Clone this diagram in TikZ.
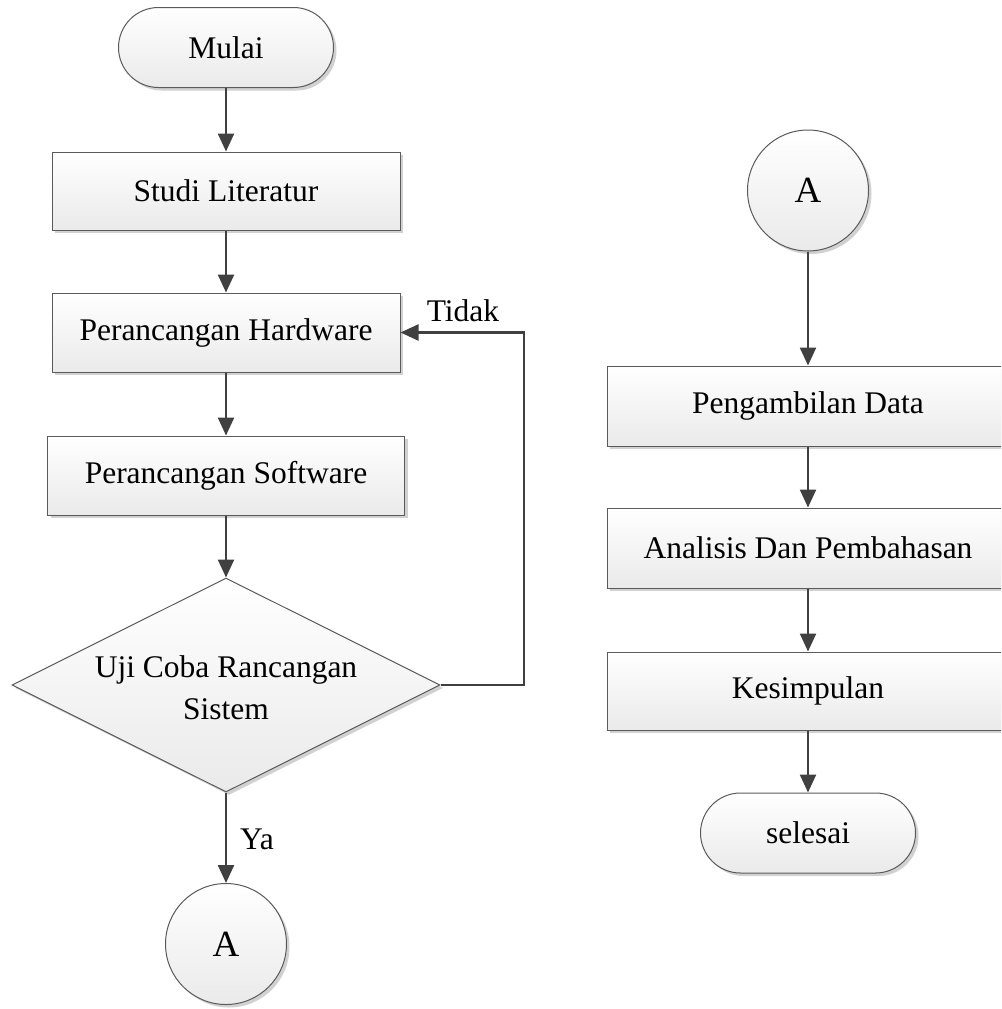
\documentclass[tikz,border=0pt]{standalone}
\usepackage{fontspec}
\setmainfont{Liberation Serif}
\usetikzlibrary{shapes.geometric,arrows.meta,shadows}
\definecolor{edgegray}{HTML}{5A5A5A}
\definecolor{arrowgray}{HTML}{404040}
\definecolor{fillbot}{HTML}{EAEAEA}
\tikzset{
  base/.style={draw=edgegray, line width=1pt, top color=white, bottom color=fillbot,
    inner sep=0pt, font=\fontsize{31.5}{40}\selectfont,
    drop shadow={shadow xshift=3pt, shadow yshift=-3pt, fill=black!18, opacity=1}},
  procbox/.style={base, rectangle},
  termbox/.style={base, rectangle, rounded corners=40pt, minimum width=215pt, minimum height=80pt},
  connbox/.style={base, circle, minimum size=121pt, font=\fontsize{37}{44}\selectfont},
  decbox/.style={base, diamond, minimum width=428pt, minimum height=214pt},
  txt/.style={inner sep=0pt, font=\fontsize{31.5}{42}\selectfont, align=center},
  flow/.style={draw=arrowgray, line width=2.4pt, -{Triangle[length=18pt,width=16pt]}},
}
\begin{document}
\begin{tikzpicture}[x=1pt,y=-1pt]
\clip (0,0) rectangle (1001,1009);
\useasboundingbox (0,0) rectangle (1001,1009);
% left column
\node[termbox] (mulai) at (226,47.5) {Mulai};
\node[procbox, minimum width=348pt, minimum height=78pt] (studi) at (226,191) {Studi Literatur};
\node[procbox, minimum width=348pt, minimum height=79pt] (hw) at (226,332.5) {Perancangan Hardware};
\node[procbox, minimum width=357pt, minimum height=79pt] (sw) at (226,475.5) {Perancangan Software};
\node[decbox] (dec) at (226,685) {};
\node[txt] (dectext) at (226,688) {Uji Coba Rancangan\\Sistem};
\node[connbox] (aout) at (226,944) {A};
\coordinate (loop) at (524,685);
\node[txt] (tidak) at (463,311) {Tidak};
\node[txt] (ya) at (257,839) {Ya};
% right column
\node[connbox] (ain) at (808,190.5) {A};
\node[procbox, minimum width=402pt, minimum height=80pt] (ambil) at (808,406) {Pengambilan Data};
\node[procbox, minimum width=402pt, minimum height=80pt] (analisis) at (808,548) {Analisis Dan Pembahasan};
\node[procbox, minimum width=402pt, minimum height=78pt] (simpul) at (808,691) {Kesimpulan};
\node[termbox] (selesai) at (808,833) {selesai};
% connectors
\draw[flow] (mulai) -- (studi);
\draw[flow] (studi) -- (hw);
\draw[flow] (hw) -- (sw);
\draw[flow] (sw.south) -- (dec.north);
\draw[flow] (dec.south) -- (aout.north);
\draw[flow] (dec.east) -- (loop) |- (hw.east);
\draw[flow] (ain) -- (ambil);
\draw[flow] (ambil) -- (analisis);
\draw[flow] (analisis) -- (simpul);
\draw[flow] (simpul) -- (selesai);
\end{tikzpicture}
\end{document}
